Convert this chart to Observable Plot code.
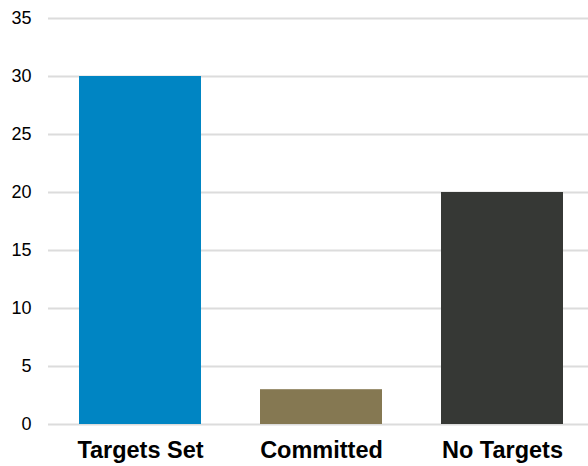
<!DOCTYPE html>
<html>
<head>
<meta charset="utf-8">
<script src="https://cdn.jsdelivr.net/npm/d3@7"></script>
<script src="https://cdn.jsdelivr.net/npm/@observablehq/plot@0.6"></script>
<style>
  html, body { margin: 0; padding: 0; background: #fff; }
  #chart { width: 588px; height: 466px; }
</style>
</head>
<body>
<div id="chart"></div>
<script>
const categories = ["Targets Set", "Committed", "No Targets"];
const values = [30, 3, 20];
const colors = ["#0085C3", "#857852", "#363835"];
const yTicks = [0, 5, 10, 15, 20, 25, 30, 35];

const data = categories.map((c, i) => ({category: c, value: values[i]}));

const chart = Plot.plot({
  width: 588,
  height: 466,
  marginLeft: 48,
  marginRight: 0,
  marginTop: 18,
  marginBottom: 42,
  style: {fontFamily: "'Liberation Sans', Arial, Helvetica, sans-serif", background: "#fff"},
  x: {domain: categories, range: [48, 594], paddingInner: 0.326, paddingOuter: 0.17, label: null},
  y: {domain: [0, 35], label: null},
  color: {domain: categories, range: colors},
  marks: [
    Plot.gridY(yTicks, {stroke: "#dcdcdc", strokeOpacity: 1, strokeWidth: 2}),
    Plot.barY(data, {x: "category", y: "value", fill: "category"}),
    Plot.axisY(yTicks, {tickSize: 0, tickPadding: 17, fontSize: 18, fill: "#000", label: null}),
    Plot.axisX({tickSize: 0, tickPadding: 17, fontSize: 23.5, fontWeight: "bold", fill: "#000", label: null})
  ]
});
document.getElementById("chart").appendChild(chart);
</script>
</body>
</html>
